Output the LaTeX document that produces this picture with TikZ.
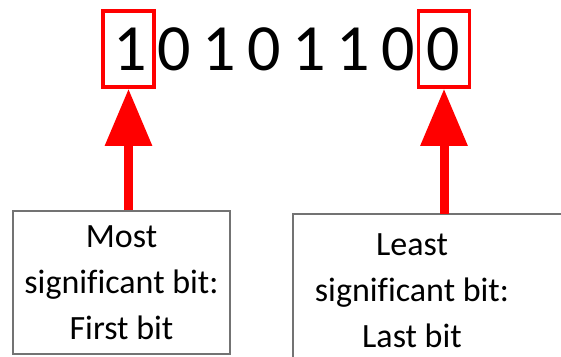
\documentclass[tikz,border=0pt]{standalone}
\usepackage{fontspec}
\setmainfont[Ligatures=NoCommon]{Carlito}
\usetikzlibrary{arrows.meta, positioning}

\begin{document}
\begin{tikzpicture}[x=1pt,y=-1pt,>={Triangle[length=57pt,width=45pt]},
      bit/.style={font=\fontsize{66}{70}\selectfont, anchor=base, inner sep=0pt},
      bitframe/.style={draw=red, line width=3.5pt, minimum width=51pt, minimum height=76pt},
      note/.style={draw=black!55, line width=1.2pt, font=\fontsize{34}{46}\selectfont, align=center},
      pointer/.style={->, color=red, line width=9pt}]
      \useasboundingbox (0,0) rectangle (561,356);
      % the bits
      \foreach \b [count=\i] in {1,0,1,0,1,1,0,0}
        \node[bit] (b_\i) at ({130+44.7*(\i-1)},70) {\b};
      \node[bitframe] (msb_frame) at (128.5,49) {};
      \node[bitframe] (lsb_frame) at (444,49) {};
      % the notes
      \node[note, minimum width=217pt, minimum height=143pt] (msb_note) at (121.5,282.5)
        {Most\\significant bit:\\First bit};
      \node[font=\fontsize{34}{46}\selectfont, align=center] (lsb_note) at (412,291)
        {Least\\significant bit:\\Last bit};
      \draw[draw=black!55, line width=1.2pt] (293,214) rectangle (580,380);
      \coordinate (lsb_top) at (444,214);
      \path[pointer]
      (msb_note.north -| msb_frame) edge (msb_frame.south)
      (lsb_top) edge (lsb_frame.south);
    \end{tikzpicture}
\end{document}
